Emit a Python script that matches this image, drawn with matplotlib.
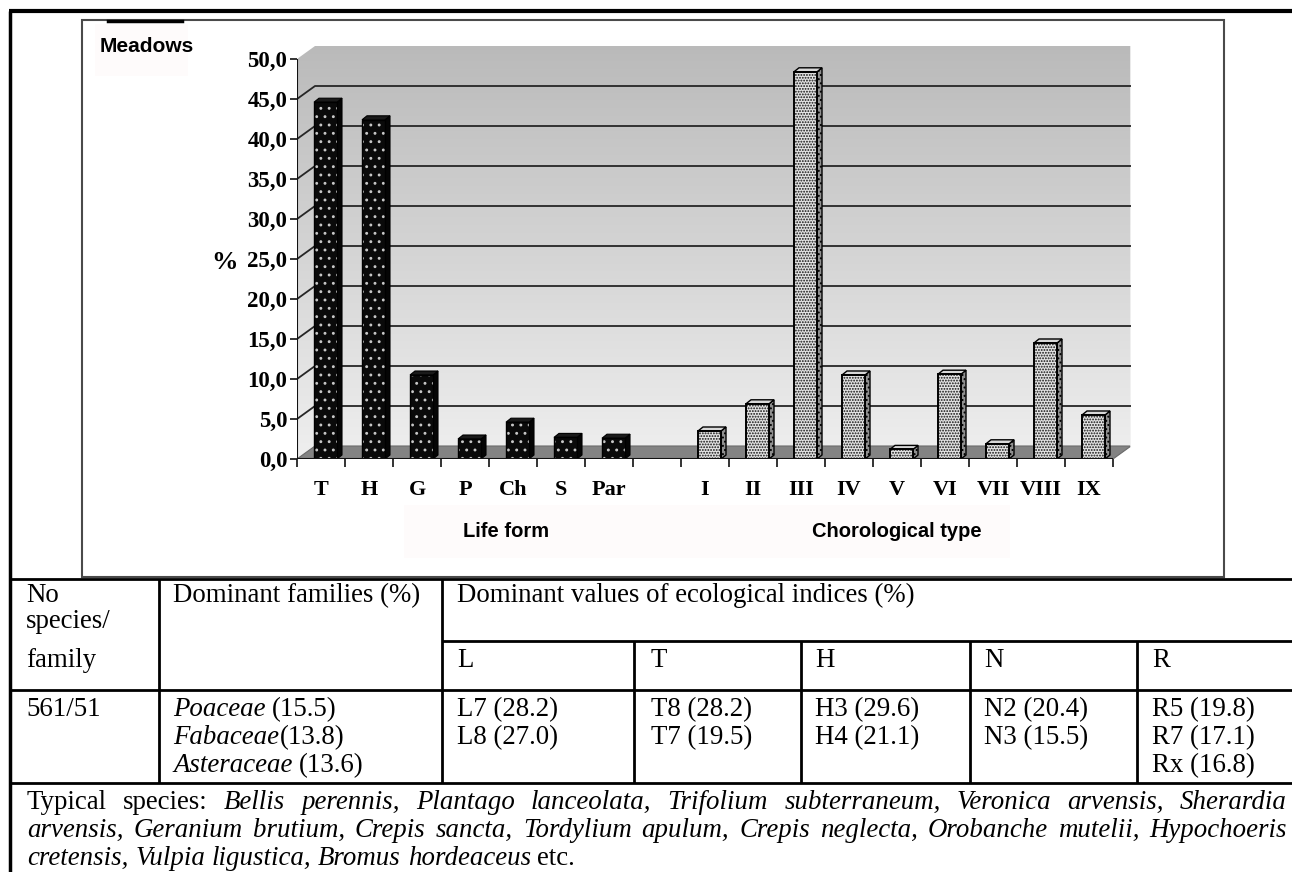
import matplotlib
matplotlib.use("Agg")
import matplotlib.pyplot as plt
import numpy as np
from matplotlib.patches import Polygon, Rectangle
from matplotlib.colors import LinearSegmentedColormap

plt.rcParams['hatch.linewidth'] = 0.9

# ---------------- data ----------------
chart_title = "Meadows"
life_forms = ["T", "H", "G", "P", "Ch", "S", "Par"]
life_values = [44.6, 42.4, 10.5, 2.5, 4.6, 2.7, 2.6]
choro_types = ["I", "II", "III", "IV", "V", "VI", "VII", "VIII", "IX"]
choro_values = [3.5, 6.9, 48.4, 10.5, 1.2, 10.6, 1.9, 14.5, 5.5]
y_ticks = [0, 5, 10, 15, 20, 25, 30, 35, 40, 45, 50]
y_tick_labels = ["0,0", "5,0", "10,0", "15,0", "20,0", "25,0", "30,0",
                 "35,0", "40,0", "45,0", "50,0"]
y_label = "%"
group_titles = ["Life form", "Chorological type"]

head_col1 = ["No", "species/", "family"]
head_col2 = "Dominant families (%)"
head_col3 = "Dominant values of ecological indices (%)"
index_names = ["L", "T", "H", "N", "R"]
no_species = "561/51"
family_names = ["Poaceae", "Fabaceae", "Asteraceae"]
family_pct = ["(15.5)", "(13.8)", "(13.6)"]
family_gap = [True, False, True]
index_values = [["L7 (28.2)", "L8 (27.0)"],
                ["T8 (28.2)", "T7 (19.5)"],
                ["H3 (29.6)", "H4 (21.1)"],
                ["N2 (20.4)", "N3 (15.5)"],
                ["R5 (19.8)", "R7 (17.1)", "Rx (16.8)"]]
typical_label = "Typical species:"
typical_species = ["Bellis perennis", "Plantago lanceolata", "Trifolium subterraneum",
                   "Veronica arvensis", "Sherardia arvensis", "Geranium brutium",
                   "Crepis sancta", "Tordylium apulum", "Crepis neglecta",
                   "Orobanche mutelii", "Hypochoeris cretensis", "Vulpia ligustica",
                   "Bromus hordeaceus"]
typical_end = "etc."
break_after = ["Sherardia", "Hypochoeris"]

# ---------------- figure ----------------
W, H = 1292, 872
fig = plt.figure(figsize=(W / 100, H / 100), dpi=100)
bg = fig.add_axes([0, 0, 1, 1])
bg.set_xlim(0, W)
bg.set_ylim(H, 0)
bg.axis('off')

SERIF = 'Liberation Serif'
SANS = 'Liberation Sans'
FS = 19.4

# outer frame
bg.plot([9, W], [11, 11], color='black', lw=3, solid_capstyle='butt')
bg.plot([10, 10], [11, H], color='black', lw=2.5, solid_capstyle='butt')

# chart box
bg.add_patch(Rectangle((82, 20), 1142, 557, facecolor='white', edgecolor='#4a4a4a', lw=1.5, zorder=1))
bg.add_patch(Rectangle((95, 24), 93, 52, facecolor='#fefbfb', edgecolor='none', zorder=1.5))
bg.add_patch(Rectangle((404, 505), 606, 53, facecolor='#fefbfb', edgecolor='none', zorder=1.5))
bg.plot([108, 182], [21, 21], color='black', lw=2.5, zorder=2)
bg.text(100, 47, chart_title, fontfamily=SANS, fontweight='bold', fontsize=15,
        ha='left', va='center', zorder=3)
bg.text(225, 262, y_label, fontfamily=SERIF, fontweight='bold', fontsize=19,
        ha='center', va='center', zorder=3)
bg.text(506, 531, group_titles[0], fontfamily=SANS, fontweight='bold', fontsize=14.5,
        ha='center', va='center', zorder=3)
bg.text(897, 531, group_titles[1], fontfamily=SANS, fontweight='bold', fontsize=14.5,
        ha='center', va='center', zorder=3)

# ---------------- 3D-look bar chart ----------------
cats = life_forms + [""] + choro_types
n = len(cats)
PXX, PXY = 48.0, 8.0          # pixels per category / per percent
DX, DY = 18 / PXX, 13 / PXY   # depth offset of the back wall
ax = fig.add_axes([297 / W, 1 - 459 / H, (n * PXX + 18) / W, (50 * PXY + 13) / H])
ax.set_facecolor('none')
for s in ax.spines.values():
    s.set_visible(False)

cmap = LinearSegmentedColormap.from_list('wall', ['#efefef', '#bababa'])
grad = np.linspace(0, 1, 256).reshape(-1, 1)
im = ax.imshow(grad, cmap=cmap, extent=[0, n + DX, 0, 50 + DY], origin='lower',
               aspect='auto', zorder=0, interpolation='bilinear')
wall = Polygon([(0, 0), (0, 50), (DX, 50 + DY), (n + DX, 50 + DY), (n + DX, DY), (n, 0)],
               closed=True, transform=ax.transData, facecolor='none', edgecolor='none')
im.set_clip_path(wall)
ax.add_patch(Polygon([(0, 0), (DX, DY), (n + DX, DY), (n, 0)], closed=True,
                     facecolor='#838383', edgecolor='#6a6a6a', lw=0.8, zorder=1))
for v in y_ticks[1:-1]:
    ax.plot([0, DX, n + DX], [v, v + DY, v + DY], color='#262626', lw=1.3, zorder=2)
ax.plot([n + DX, n + DX], [DY, 50 + DY], color='#f4f4f4', lw=1.2, zorder=1.5)

A, WF, SX, SY = 17 / PXX, 23 / PXX, 5 / PXX, 4 / PXY
positions = list(range(len(life_forms))) + list(range(len(life_forms) + 1, n))
values = life_values + choro_values
for k, (c, v) in enumerate(zip(positions, values)):
    dark = k < len(life_forms)
    x0, x1 = c + A, c + A + WF
    front = [(x0, 0), (x1, 0), (x1, v), (x0, v)]
    side = [(x1, 0), (x1, v), (x1 + SX, v + SY), (x1 + SX, SY)]
    top = [(x0, v), (x1, v), (x1 + SX, v + SY), (x0 + SX, v + SY)]
    if dark:
        ax.add_patch(Polygon(side, closed=True, facecolor='#050505', edgecolor='black', lw=0.8, zorder=3))
        ax.add_patch(Polygon(top, closed=True, facecolor='#1a1a1a', edgecolor='black', lw=0.8, zorder=3))
        ax.add_patch(Polygon(front, closed=True, facecolor='#0a0a0a', edgecolor='none', lw=0, zorder=3))
        ax.add_patch(Polygon(front, closed=True, fill=False, edgecolor='#c8c8c8', hatch='..', lw=0, zorder=3.1))
        ax.add_patch(Polygon(front, closed=True, fill=False, edgecolor='black', lw=1.0, zorder=3.2))
    else:
        ax.add_patch(Polygon(side, closed=True, facecolor='#909090', edgecolor='black', hatch='....', lw=1.0, zorder=3))
        ax.add_patch(Polygon(top, closed=True, facecolor='#d8d8d8', edgecolor='black', lw=1.0, zorder=3))
        ax.add_patch(Polygon(front, closed=True, facecolor='#e4e4e4', edgecolor='#111111', hatch='......', lw=0, zorder=3))
        ax.add_patch(Polygon(front, closed=True, fill=False, edgecolor='black', lw=1.4, zorder=3.2))

ax.plot([0, 0], [0, 50], color='#111111', lw=1.5, zorder=5, solid_capstyle='butt')
ax.plot([0, n], [0, 0], color='#111111', lw=1.5, zorder=5, solid_capstyle='butt')
ax.set_xlim(0, n + DX)
ax.set_ylim(0, 50 + DY)
ax.set_yticks(y_ticks, y_tick_labels, fontfamily=SERIF, fontweight='bold', fontsize=16.5)
ax.tick_params(axis='y', length=5, width=1.2, pad=2, color='#111111')
ax.set_xticks(np.arange(n + 1), [""] * (n + 1))
ax.set_xticks(np.arange(n) + 0.5, cats, minor=True, fontfamily=SERIF,
              fontweight='bold', fontsize=16)
ax.tick_params(axis='x', which='major', length=6, width=1.2, color='#111111')
ax.tick_params(axis='x', which='minor', length=0, pad=15)

# ---------------- table ----------------
LW = 2
for y, xa in [(579, 10), (641, 442), (690, 10), (783, 10)]:
    bg.plot([xa, W], [y, y], color='black', lw=LW, solid_capstyle='butt')
for x in [159, 442]:
    bg.plot([x, x], [579, 783], color='black', lw=LW, solid_capstyle='butt')
for x in [634, 801, 970, 1137]:
    bg.plot([x, x], [641, 783], color='black', lw=LW, solid_capstyle='butt')

renderer = fig.canvas.get_renderer()


def twidth(s, style='normal'):
    t = bg.text(0, 0, s, fontsize=FS, fontfamily=SERIF, style=style)
    w = t.get_window_extent(renderer).width
    t.remove()
    return w


SPACE = twidth('a a') - twidth('aa')


def put(x, y, s, style='normal'):
    bg.text(x, y, s, fontsize=FS, fontfamily=SERIF, style=style, ha='left', va='baseline')


for s, y in zip(head_col1, [602, 628, 667]):
    put(26, y, s)
put(173, 602, head_col2)
put(457, 602, head_col3)
col_x = [457, 651, 815, 984, 1152]
for x, name in zip(col_x, index_names):
    put(x, 667, name)
row_y = [716, 744, 772]
put(26, row_y[0], no_species)
for name, pct, gap, y in zip(family_names, family_pct, family_gap, row_y):
    put(173, y, name, 'italic')
    xx = 173 + twidth(name, 'italic') + (SPACE if gap else 1)
    put(xx, y, pct)
for x, vals in zip(col_x, index_values):
    for s, y in zip(vals, row_y):
        put(x, y, s)

# typical species paragraph (justified)
tokens = [(w, 'normal') for w in typical_label.split()]
for i, sp in enumerate(typical_species):
    words = sp.split()
    for j, w in enumerate(words):
        if j == len(words) - 1 and i < len(typical_species) - 1:
            w = w + ','
        tokens.append((w, 'italic'))
tokens.append((typical_end, 'normal'))

lines, cur = [], []
for w, st in tokens:
    cur.append((w, st))
    if w.rstrip(',') in break_after:
        lines.append(cur)
        cur = []
lines.append(cur)

XL, XR = 27, 1287
for li, (line, y) in enumerate(zip(lines, [809, 837, 865])):
    widths = [twidth(w, st) for w, st in line]
    if li < len(lines) - 1:
        gap = (XR - XL - sum(widths)) / (len(line) - 1)
    else:
        gap = SPACE
    x = XL
    for (w, st), wd in zip(line, widths):
        put(x, y, w, st)
        x += wd + gap

fig.savefig('out.png', dpi=100)
